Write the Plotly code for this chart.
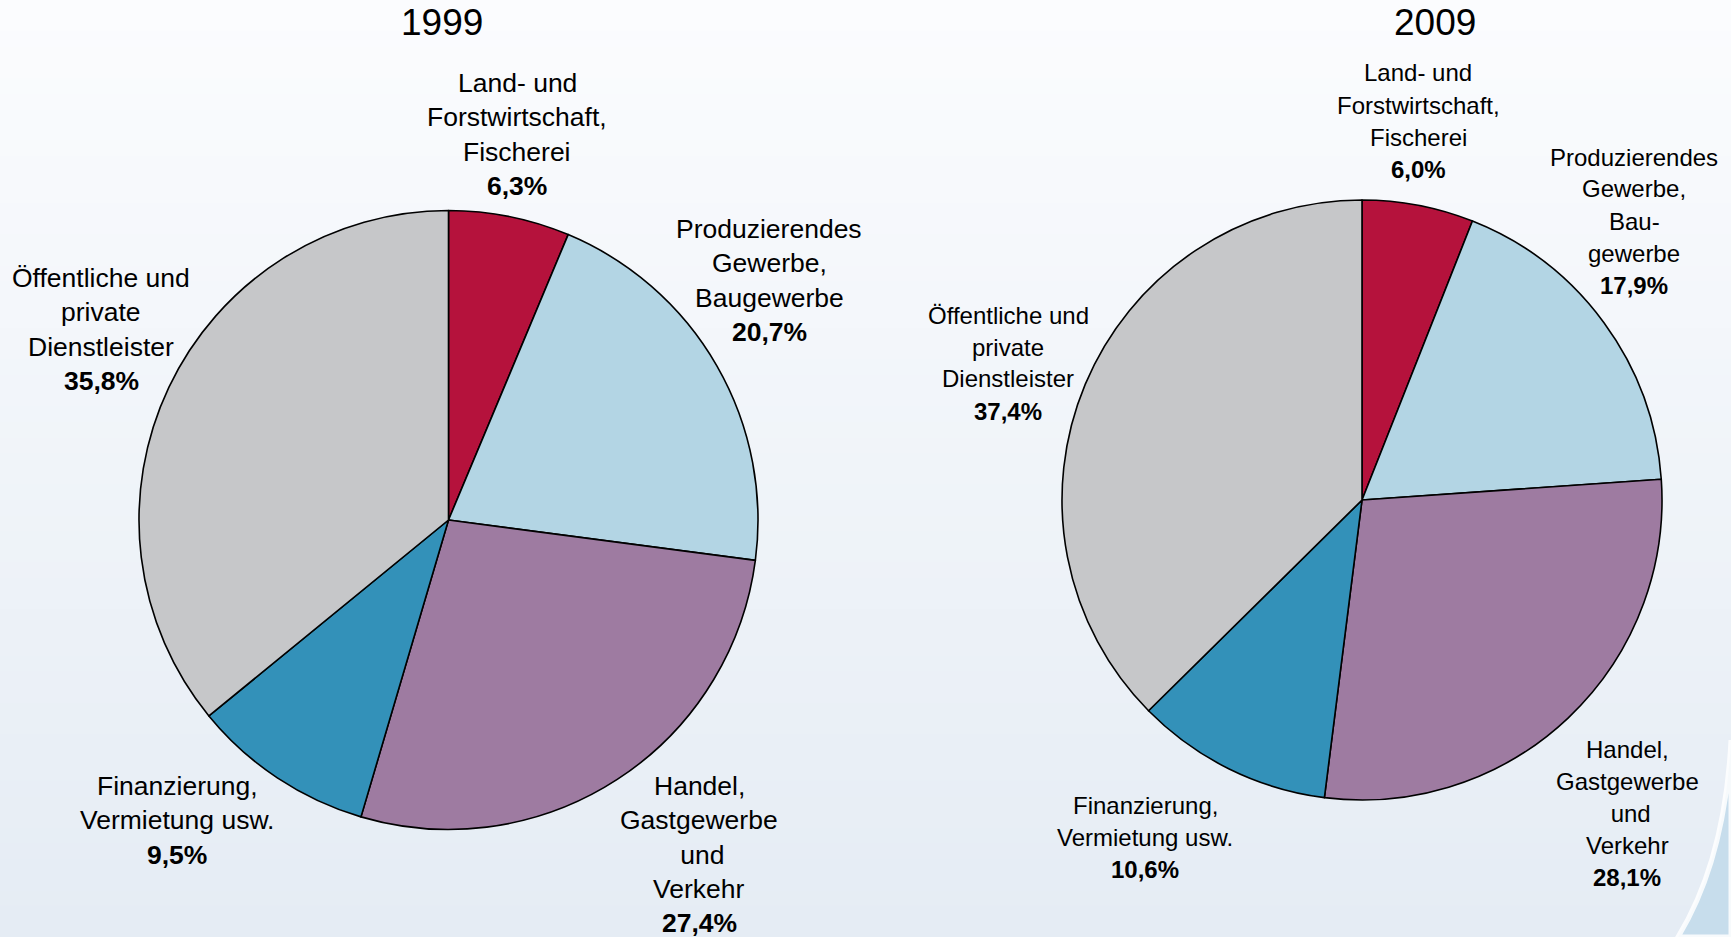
import plotly.graph_objects as go

W, H = 1731, 937

# ---- data ----
categories = ["Land- und Forstwirtschaft, Fischerei",
              "Produzierendes Gewerbe, Baugewerbe",
              "Handel, Gastgewerbe und Verkehr",
              "Finanzierung, Vermietung usw.",
              "Öffentliche und private Dienstleister"]
values_1999 = [6.3, 20.7, 27.4, 9.5, 35.8]
values_2009 = [6.0, 17.9, 28.1, 10.6, 37.4]
years = ["1999", "2009"]

label_lines_1999 = [["Land- und", "Forstwirtschaft,", "Fischerei"],
                    ["Produzierendes", "Gewerbe,", "Baugewerbe"],
                    ["Handel,", "Gastgewerbe", " und", "Verkehr"],
                    ["Finanzierung,", "Vermietung usw."],
                    ["Öffentliche und", "private", "Dienstleister"]]
label_lines_2009 = [["Land- und", "Forstwirtschaft,", "Fischerei"],
                    ["Produzierendes", "Gewerbe,", "Bau-", "gewerbe"],
                    ["Handel,", "Gastgewerbe", " und", "Verkehr"],
                    ["Finanzierung,", "Vermietung usw."],
                    ["Öffentliche und", "private", "Dienstleister"]]

colors = ["#B5123C", "#B3D5E4", "#9E7BA1", "#3391B9", "#C6C7C9"]

# ---- layout helpers (pixel -> paper) ----
def px(x):
    return x / W

def py(y):
    return 1 - y / H

FONT = "Liberation Sans, Arial, sans-serif"

# pie geometry (pixel centre, radius)
pies = [dict(cx=448.5, cy=520, r=309.5), dict(cx=1362, cy=500, r=300)]

fig = go.Figure()
for i, (vals, g) in enumerate(zip([values_1999, values_2009], pies)):
    fig.add_trace(go.Pie(
        labels=categories, values=vals, sort=False, direction="clockwise",
        rotation=0, textinfo="none", hoverinfo="label+percent",
        marker=dict(colors=colors, line=dict(color="#000000", width=1.6)),
        domain=dict(x=[px(g["cx"] - g["r"]), px(g["cx"] + g["r"])],
                    y=[py(g["cy"] + g["r"]), py(g["cy"] - g["r"])]),
        showlegend=False, name=years[i]))

annotations = []
# titles
for yr, (tx, ty) in zip(years, [(442, 23), (1435, 23)]):
    annotations.append(dict(text=yr, x=px(tx), y=py(ty), xref="paper", yref="paper",
                            showarrow=False, xanchor="center", yanchor="middle",
                            borderpad=0,
                            font=dict(family=FONT, size=37, color="#000000")))

# label anchor positions: (centre x, first line y)
pos_1999 = [(517, 83), (769, 229), (699, 786), (177, 786), (101, 278)]
pos_2009 = [(1418, 73), (1634, 157), (1627, 749), (1145, 805), (1008, 315)]

def fmt(v):
    return f"{v:.1f}".replace(".", ",") + "%"

for vals, lines_all, poss, fsize, step in [
        (values_1999, label_lines_1999, pos_1999, 26.5, 34.3),
        (values_2009, label_lines_2009, pos_2009, 24, 32)]:
    for v, lines, (lx, ly) in zip(vals, lines_all, poss):
        all_lines = lines + ["<b>" + fmt(v) + "</b>"]
        for k, t in enumerate(all_lines):
            annotations.append(dict(text=t, x=px(lx), y=py(ly + k * step),
                                    xref="paper", yref="paper", showarrow=False,
                                    xanchor="center", yanchor="middle", borderpad=0,
                                    font=dict(family=FONT, size=fsize, color="#000000")))

# background gradient bands
shapes = []
top = (251, 252, 254)
bot = (229, 236, 244)
n = 60
for k in range(n):
    t = k / (n - 1)
    c = tuple(round(top[j] + (bot[j] - top[j]) * t) for j in range(3))
    shapes.append(dict(type="rect", xref="paper", yref="paper", x0=0, x1=1,
                       y0=py((k + 1) * H / n) - 0.001, y1=py(k * H / n),
                       fillcolor="rgb(%d,%d,%d)" % c, line=dict(width=0), layer="below"))

# swoosh bottom right
path = "M %f,%f Q %f,%f %f,%f L %f,%f Z" % (px(1731), py(740), px(1725), py(860),
                                           px(1678), py(937), px(1731), py(937))
shapes.append(dict(type="path", xref="paper", yref="paper", path=path,
                   fillcolor="#C7DDEC", line=dict(color="rgba(255,255,255,0.85)", width=5),
                   layer="below"))

fig.update_layout(width=W, height=H, margin=dict(l=0, r=0, t=0, b=0),
                  paper_bgcolor="#F1F5F9", plot_bgcolor="rgba(0,0,0,0)",
                  annotations=annotations, shapes=shapes,
                  font=dict(family=FONT))

fig.write_html("out.html", config={"displayModeBar": False},
               post_script="document.body.style.margin='0';document.body.style.overflow='hidden';")
